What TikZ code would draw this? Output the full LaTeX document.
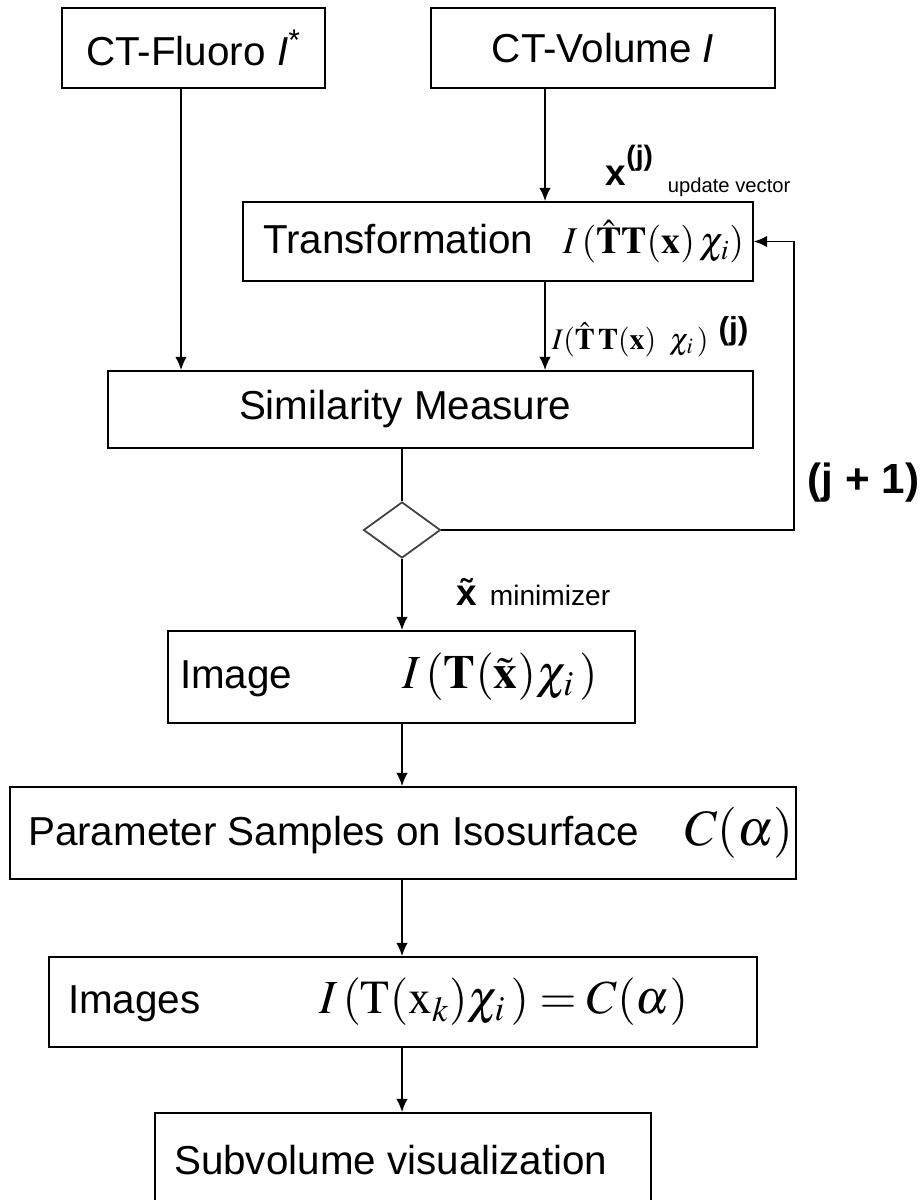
\documentclass[tikz,border=0pt]{standalone}
\usepackage{mathptmx}
\usepackage{amsmath}
\usepackage{fontspec}
\setmainfont{Liberation Sans}
\usepackage{tikz}
\usetikzlibrary{arrows.meta,shapes.geometric}

\begin{document}
\begin{tikzpicture}[
            x = 0.02cm, y = -0.02cm, % one unit = one pixel of the sketch
            > = {Latex[length=7.5pt,width=6.5pt]}, % arrow head style
            line width = 1pt,
            box/.style = {draw, inner sep=0pt, font=\fontsize{23}{27}\selectfont},
            lbl/.style = {inner sep=0pt, anchor=base west}
        ]

	\path[use as bounding box, clip] (0,0) rectangle (921,1200);

	% columns of the connectors
	\coordinate (cf) at (181,0);
	\coordinate (cv) at (545,0);
	\coordinate (cm) at (402,0);
	\coordinate (cl) at (794,0);

	\node[box, minimum width=5.26cm, minimum height=1.6cm] (fluoro) at (193.5,48) {CT-Fluoro \textit{I}\textsuperscript{*}};
	\node[box, minimum width=6.88cm, minimum height=1.6cm] (volume) at (603,48) {CT-Volume \textit{I}};
	\node[box, minimum width=10.2cm, minimum height=1.58cm] (trans) at (498,241.5)
		{\makebox[10.2cm][l]{\hspace{0.4cm}\rlap{Transformation}\hspace{6cm}{\fontsize{21.5}{26}\selectfont$I\,(\hat{\mathbf{T}}\mathbf{T}(\mathbf{x})\,\chi_i)$}}};
	\node[box, minimum width=12.9cm, minimum height=1.54cm] (simil) at (430.5,409.5)
		{\makebox[12.9cm][l]{\hspace{2.62cm}Similarity Measure}};
	\node[diamond, draw=black!75, inner sep=0pt, minimum width=1.54cm, minimum height=1.12cm] (dia) at (402,530) {};
	\node[box, minimum width=9.34cm, minimum height=1.84cm] (image) at (401.5,677)
		{\makebox[9.34cm][l]{\hspace{0.24cm}\rlap{Image}\hspace{4.44cm}{\fontsize{27}{30}\selectfont$I\,(\mathbf{T}(\tilde{\mathbf{x}})\chi_i\,)$}}};
	\node[box, minimum width=15.72cm, minimum height=1.84cm] (param) at (403,833)
		{\makebox[15.72cm][l]{\hspace{0.36cm}\rlap{Parameter Samples on Isosurface}\hspace{13.14cm}{\fontsize{29}{33}\selectfont$C(\alpha)$}}};
	\node[box, minimum width=14.16cm, minimum height=1.8cm] (images) at (403,1002)
		{\makebox[14.16cm][l]{\hspace{0.38cm}\rlap{Images}\hspace{5.02cm}{\fontsize{27}{31}\selectfont$I\,(\mathrm{T}(\mathrm{x}_k)\chi_i\,)=C(\alpha)$}}};
	\node[box, minimum width=9.92cm, minimum height=1.88cm] (subvol) at (403,1160)
		{\makebox[9.92cm][l]{\hspace{0.38cm}Subvolume visualization}};

	\draw[->] (fluoro.south -| cf) -- (simil.north -| cf);
	\draw[->] (volume.south -| cv) -- (trans.north -| cv);
	\draw[->] (trans.south -| cv) -- (simil.north -| cv);
	\draw (simil.south -| cm) -- (dia.north);
	\draw[->] (dia.east) -- (dia.east -| cl) |- (trans.east);
	\draw[->] (dia.south) -- (image.north -| cm);
	\draw[->] (image.south -| cm) -- (param.north -| cm);
	\draw[->] (param.south -| cm) -- (images.north -| cm);
	\draw[->] (images.south -| cm) -- (subvol.north -| cm);

	\node[lbl] (xupd) at (605,185) {\fontsize{21}{25}\selectfont\textbf{x}\raisebox{1ex}{\fontsize{16}{19}\selectfont\textbf{(j)}}\hspace{0.3cm}\raisebox{-0.4ex}{\fontsize{11.5}{13}\selectfont update vector}};
	\node[lbl] (ilbl) at (551,349) {{\fontsize{17}{20}\selectfont$I(\hat{\mathbf{T}}\,\mathbf{T}(\mathbf{x})\;\;\chi_i\,)$}\hspace{0.2cm}\raisebox{1ex}{\fontsize{18}{21}\selectfont\textbf{(j)}}};
	\node[lbl] (xmin) at (456,605) {\fontsize{21}{25}\selectfont\textbf{\~x}\hspace{0.25cm}{\fontsize{16}{18}\selectfont minimizer}};
	\node[lbl] (jnext) at (807,493) {\fontsize{24}{28}\selectfont\textbf{(j + 1)}};

\end{tikzpicture}
\end{document}
